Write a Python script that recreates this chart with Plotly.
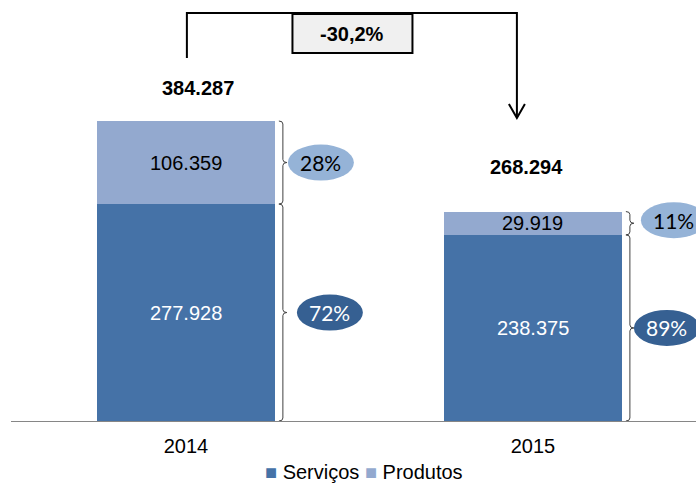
import plotly.graph_objects as go

# ---- data ----
years = ["2014", "2015"]
servicos = [277928, 238375]
produtos = [106359, 29919]

# ---- styling ----
C_SERV = "rgb(69,114,167)"
C_PROD = "rgb(147,169,207)"
C_ELL_LIGHT = "rgb(149,179,215)"
C_ELL_DARK = "rgb(54,96,146)"
FONT = "Liberation Sans, Arial, sans-serif"
PCT_FONT = "Lato, Carlito, Calibri, sans-serif"

W, H = 696, 487
ML, MR, MT, MB = 11, 0, 0, 66
X_RANGE = [-0.504, 1.470]
Y_TOP = 539300

plot_w = W - ML - MR
plot_h = H - MT - MB
px_x = (X_RANGE[1] - X_RANGE[0]) / plot_w  # data units per px (x)
px_y = Y_TOP / plot_h                        # data units per px (y)

def fmt(v):
    return f"{v:,}".replace(",", ".")

xs = list(range(len(years)))
totals = [s + p for s, p in zip(servicos, produtos)]

fig = go.Figure()
fig.add_trace(go.Bar(x=xs, y=servicos, name="Serviços", marker_color=C_SERV,
                     marker_line_width=0, showlegend=False, hoverinfo="skip"))
fig.add_trace(go.Bar(x=xs, y=produtos, name="Produtos", marker_color=C_PROD,
                     marker_line_width=0, showlegend=False, hoverinfo="skip"))

annotations = []
shapes = []

def ann(**kw):
    d = dict(showarrow=False, xanchor="center", yanchor="middle")
    d.update(kw)
    annotations.append(d)

# segment labels
for i, x in enumerate(xs):
    ann(x=x, y=servicos[i] / 2, text=fmt(servicos[i]),
        font=dict(family=FONT, size=20, color="white"))
    ann(x=x, y=servicos[i] + produtos[i] / 2, text=fmt(produtos[i]),
        font=dict(family=FONT, size=20, color="black"))

# totals
tot_shift = [(12, 33), (-6, 45)]
for i, x in enumerate(xs):
    ann(x=x, y=totals[i], text=f"<b>{fmt(totals[i])}</b>",
        xshift=tot_shift[i][0], yshift=tot_shift[i][1],
        font=dict(family=FONT, size=20, color="black"))

# braces
def brace(xb, y0, y1):
    dx = 4 * px_x
    dy = min(3 * px_y, (y1 - y0) / 4)
    ym = (y0 + y1) / 2
    return (f"M {xb - dx},{y1} Q {xb},{y1} {xb},{y1 - dy} L {xb},{ym + dy} "
            f"Q {xb},{ym} {xb + dx},{ym} Q {xb},{ym} {xb},{ym - dy} "
            f"L {xb},{y0 + dy} Q {xb},{y0} {xb - dx},{y0}")

brace_off = 97 * px_x
for i, x in enumerate(xs):
    xb = x + brace_off
    for (a, b) in [(0, servicos[i]), (servicos[i], totals[i])]:
        shapes.append(dict(type="path", path=brace(xb, a, b), xref="x", yref="y",
                           line=dict(color="#404040", width=1)))

# percentage ellipses
ell_w = 66 * px_x
ell_h = 36 * px_y
ell_off_prod = [135 * px_x, 141 * px_x]
ell_off_serv = [144 * px_x, 134 * px_x]
for i, x in enumerate(xs):
    pp = round(100 * produtos[i] / totals[i])
    ps = round(100 * servicos[i] / totals[i])
    for (cx, cy, col, txt, tcol) in [
        (x + ell_off_prod[i], servicos[i] + produtos[i] / 2 + (3 * px_y if i == 1 else 0), C_ELL_LIGHT, f"{pp}%", "black"),
        (x + ell_off_serv[i], servicos[i] / 2, C_ELL_DARK, f"{ps}%", "white"),
    ]:
        shapes.append(dict(type="circle", xref="x", yref="y",
                           x0=cx - ell_w / 2, x1=cx + ell_w / 2,
                           y0=cy - ell_h / 2, y1=cy + ell_h / 2,
                           fillcolor=col, line=dict(width=0)))
        ann(x=cx, y=cy, text=txt, font=dict(family=PCT_FONT, size=21, color=tcol))

# change bracket with arrow
def py(p):  # pixel row -> paper y
    return 1 - (p - MT) / plot_h

change = (totals[1] / totals[0] - 1) * 100
change_txt = f"{change:.1f}%".replace(".", ",")
xl = xs[0] + 1 * px_x
xr = xs[1] - 16 * px_x
y_line = py(13)
shapes.append(dict(type="path", xref="x", yref="paper",
                   path=f"M {xl},{py(58)} L {xl},{y_line} L {xr},{y_line} L {xr},{py(117)}",
                   line=dict(color="black", width=2)))
shapes.append(dict(type="path", xref="x", yref="paper",
                   path=f"M {xr - 8 * px_x},{py(104)} L {xr},{py(118)} L {xr + 8 * px_x},{py(104)}",
                   line=dict(color="black", width=2)))
bx = 0.48
shapes.append(dict(type="rect", xref="x", yref="paper",
                   x0=bx - 60 * px_x, x1=bx + 60 * px_x, y0=py(53), y1=py(14),
                   fillcolor="#F0F0F0", line=dict(color="black", width=2)))
ann(x=bx, y=py(33.5), xref="x", yref="paper", text=f"<b>{change_txt}</b>",
    font=dict(family=FONT, size=20, color="black"))

# legend (manual, as text)
leg_y = (plot_h - (472 - MT)) / plot_h
ann(x=(364 - ML) / plot_w, y=leg_y, xref="paper", yref="paper",
    text=(f"<span style='color:{C_SERV}'>■</span> Serviços "
          f"<span style='color:{C_PROD}'>■</span> Produtos"),
    font=dict(family=FONT, size=20, color="black"))

fig.update_layout(
    width=W, height=H,
    margin=dict(l=ML, r=MR, t=MT, b=MB),
    barmode="stack",
    bargap=0.487,
    plot_bgcolor="white", paper_bgcolor="white",
    showlegend=False,
    xaxis=dict(range=X_RANGE, tickvals=xs, ticktext=years, showgrid=False, zeroline=False,
               showline=True, linecolor="#868686", linewidth=1, ticks="",
               ticklabelstandoff=7,
               tickfont=dict(family=FONT, size=20, color="black"), fixedrange=True),
    yaxis=dict(range=[0, Y_TOP], visible=False, fixedrange=True),
    shapes=shapes,
    annotations=annotations,
)

fig.write_html("out.html", config={"displayModeBar": False},
               post_script="document.body.style.margin='0';document.body.style.overflow='hidden';")
